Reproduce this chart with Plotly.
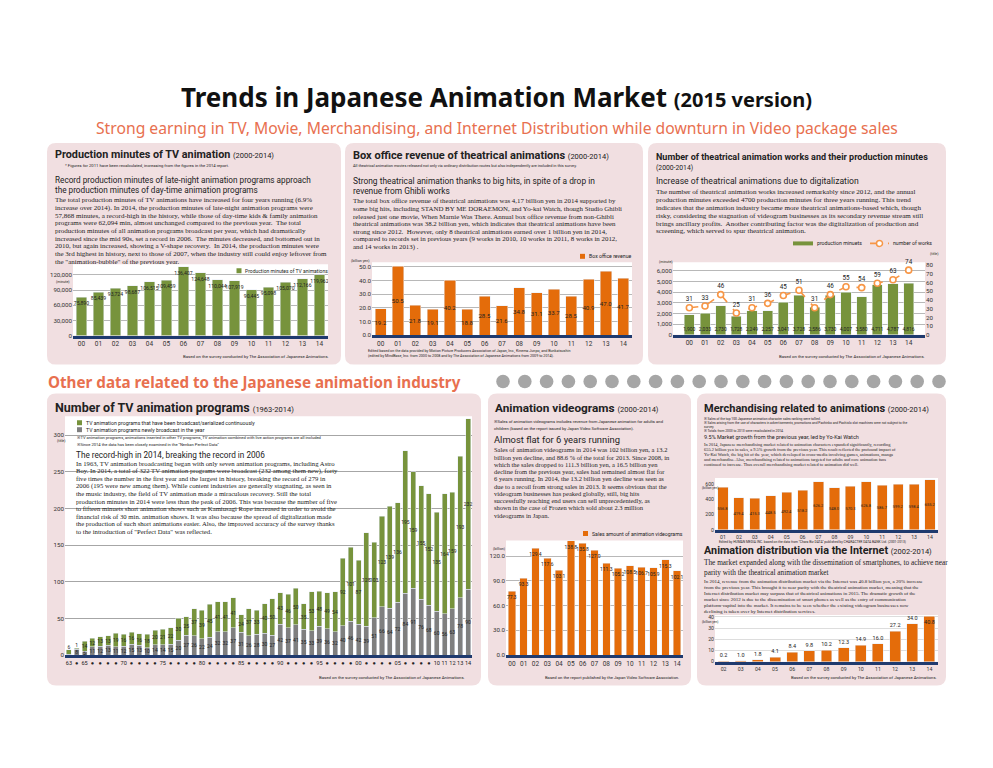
import plotly.graph_objects as go

W, H = 993, 768
SANS = "Roboto, 'Noto Sans', sans-serif"
HEAD = "'Noto Sans', Roboto, sans-serif"
SERIF = "'Liberation Serif', 'DejaVu Serif', serif"
GREEN = "#77933C"
ORANGE = "#E46C0A"
LORANGE = "#F79646"
GRAY = "#7F7F7F"
NAVY = "#1F3A6E"
PINK = "#F1DFE1"
CORAL = "#E8704F"
TXT = "#222222"

# ---------------- data ----------------
years_00_14 = ["00", "01", "02", "03", "04", "05", "06", "07", "08", "09", "10", "11", "12", "13", "14"]
tv_minutes = [75890, 85439, 93724, 98687, 106515, 109459, 136407, 124648, 110044, 107919, 90445, 95098, 105070, 112166, 119962]
box_office = [19.2, 50.5, 21.8, 19.1, 40.2, 18.8, 28.5, 21.6, 34.8, 31.1, 33.7, 28.5, 40.9, 47.0, 41.7]
theatrical_minutes = [1900, 2033, 2730, 1728, 2249, 2257, 3041, 3728, 2586, 3730, 4007, 3580, 4711, 4787, 4816]
theatrical_works = [31, 33, 46, 25, 31, 36, 45, 51, 31, 46, 55, 54, 59, 63, 74]

tv_years = list(range(1963, 2015))
tv_ticklabels = ["63", "●", "65", "●", "●", "●", "●", "70", "●", "●", "●", "●", "75", "●", "●", "●", "●",
                 "80", "●", "●", "●", "●", "85", "●", "●", "●", "●", "90", "●", "●", "●", "●", "95",
                 "●", "●", "●", "●", "00", "●", "●", "●", "●", "05", "●", "●", "●", "●",
                 "10", "11", "12", "13", "14"]
tv_gray = [1, 8, 5, 11, 12, 13, 11, 12, 15, 13, 10, 14, 14, 15, 20, 27, 26, 22, 24, 32, 32, 37, 31, 26, 28, 30,
           27, 42, 37, 41, 35, 33, 39, 36, 32, 40, 46, 42, 39, 51, 66, 64, 72, 84, 91, 76, 68, 60, 56, 63, 78, 90]
tv_green = [6, 1, 14, 12, 13, 13, 19, 16, 16, 16, 18, 20, 21, 22, 30, 25, 37, 39, 45, 41, 41, 41, 24, 37, 33, 40,
            50, 43, 46, 50, 35, 53, 48, 49, 54, 92, 101, 87, 128, 103, 123, 139, 136, 195, 159, 155, 152, 135, 164, 159, 193, 232]

videograms = [77.3, 93.3, 129.4, 117.6, 103.1, 138.8, 135.8, 127.0, 111.3, 105.2, 108.5, 106.7, 105.9, 115.3, 102.1]

merch_years = ["01", "02", "03", "04", "05", "06", "07", "08", "09", "10", "11", "12", "13", "14"]
merch = [556.8, 419.4, 415.3, 448.5, 492.4, 518.2, 626.2, 548.0, 570.3, 626.8, 586.7, 599.2, 598.4, 655.2]

net_years = ["02", "03", "04", "05", "06", "07", "08", "09", "10", "11", "12", "13", "14"]
internet = [0.2, 1.0, 1.8, 4.1, 8.4, 9.8, 10.2, 12.3, 14.9, 16.0, 27.2, 34.0, 40.8]

# ---------------- helpers ----------------
fig = go.Figure()
shapes = []
annots = []


def X(v):
    return v / W


def Y(v):
    return 1 - v / H


def T(x, y, s, size, family=SANS, color=TXT, xanchor="left", yanchor="middle", bold=False):
    annots.append(dict(x=X(x), y=Y(y), xref="paper", yref="paper", text=(f"<b>{s}</b>" if bold else s),
                       showarrow=False, xanchor=xanchor, yanchor=yanchor, borderpad=0,
                       font=dict(family=family, size=size, color=color)))


def LINES(x, y0, dy, lines, size, family=SERIF, color=TXT):
    for i, s in enumerate(lines):
        T(x, y0 + i * dy, s, size, family, color)


def rrect(x0, y0, x1, y1, r, color):
    p = (f"M {X(x0 + r)},{Y(y0)} L {X(x1 - r)},{Y(y0)} Q {X(x1)},{Y(y0)} {X(x1)},{Y(y0 + r)} "
         f"L {X(x1)},{Y(y1 - r)} Q {X(x1)},{Y(y1)} {X(x1 - r)},{Y(y1)} L {X(x0 + r)},{Y(y1)} "
         f"Q {X(x0)},{Y(y1)} {X(x0)},{Y(y1 - r)} L {X(x0)},{Y(y0 + r)} Q {X(x0)},{Y(y0)} {X(x0 + r)},{Y(y0)} Z")
    shapes.append(dict(type="path", path=p, xref="paper", yref="paper", fillcolor=color,
                       line=dict(width=0), layer="below"))


def rect(x0, y0, x1, y1, color, layer="below"):
    shapes.append(dict(type="rect", xref="paper", yref="paper", x0=X(x0), x1=X(x1), y0=Y(y1), y1=Y(y0),
                       fillcolor=color, line=dict(width=0), layer=layer))


# ---------------- panels ----------------
for (a, b, c, d) in [(47, 143, 341, 366), (345, 143, 643, 366), (648, 143, 946, 366),
                     (47, 395, 481, 689), (488, 395, 691, 689), (697, 395, 946, 689)]:
    rrect(a, b, c, d, 9, PINK)

# ---------------- axes ----------------
axes = {
    1: dict(x=(73, 328), y=(265, 336.7), yr=[0, 141000], dt=30000, fmt=","),
    2: dict(x=(372, 632), y=(263, 336.3), yr=[0, 53.4], dt=10, fmt=".1f"),
    3: dict(x=(673, 925), y=(263, 336), yr=[0, 6800], dt=1000, fmt=","),
    4: dict(x=(65, 472), y=(420, 658.3), yr=[0, 323], dt=50, fmt="d"),
    5: dict(x=(506, 683), y=(543, 658.3), yr=[0, 139], dt=30, fmt=".1f"),
    6: dict(x=(715, 938), y=(480, 532.3), yr=[0, 680], dt=200, fmt="d"),
    7: dict(x=(715, 938), y=(618, 665), yr=[0, 41.8], dt=10, fmt="d"),
}
lay = {}
for n, a in axes.items():
    xn = "xaxis" if n == 1 else f"xaxis{n}"
    yn = "yaxis" if n == 1 else f"yaxis{n}"
    lay[xn] = dict(domain=[X(a["x"][0]), X(a["x"][1])], anchor="y" if n == 1 else f"y{n}", type="category",
                   showline=True, linecolor=NAVY, linewidth=2.5, ticks="", showgrid=False, tickangle=0,
                   tickfont=dict(size=6.5, family=SANS, color="#333"), fixedrange=True)
    lay[yn] = dict(domain=[Y(a["y"][1]), Y(a["y"][0])], anchor="x" if n == 1 else f"x{n}", range=a["yr"],
                   dtick=a["dt"], tickformat=a["fmt"], showgrid=True, gridcolor="#B8B8B8", gridwidth=1,
                   zeroline=False, ticks="", tickfont=dict(size=6.2, family=SANS, color="#333"), fixedrange=True)
    rect(a["x"][0], a["y"][0] - (2 if n == 4 else 0), a["x"][1], a["y"][1], "white")
lay["yaxis9"] = dict(overlaying="y3", side="right", anchor="x3", range=[0, 83], dtick=10, showgrid=False,
                     zeroline=False, ticks="", tickfont=dict(size=6.2, family=SANS, color="#333"), fixedrange=True)
lay["yaxis6"]["gridcolor"] = "rgba(0,0,0,0)"
lay["yaxis7"]["gridcolor"] = "#DDDDDD"

bar_font = dict(size=6.1, family=SANS, color=TXT)

# 1 production minutes
fig.add_bar(x=years_00_14, y=tv_minutes, xaxis="x", yaxis="y", marker_color=GREEN,
            text=[f"{v:,}" for v in tv_minutes], textposition="inside", insidetextanchor="end",
            textangle=0, constraintext="none", textfont=dict(size=5.1, family=SANS, color=TXT), hoverinfo="skip")
# 2 box office
fig.add_bar(x=years_00_14, y=box_office, xaxis="x2", yaxis="y2", marker_color=ORANGE,
            text=[f"{v:.1f}" for v in box_office], textposition="inside", insidetextanchor="middle",
            textangle=0, constraintext="none", textfont=bar_font, hoverinfo="skip")
# 3 theatrical works
fig.add_bar(x=years_00_14, y=theatrical_minutes, xaxis="x3", yaxis="y3", marker_color=GREEN,
            text=[f"{v:,}" for v in theatrical_minutes], textposition="inside", insidetextanchor="start",
            textangle=0, constraintext="none", textfont=dict(size=5.0, family=SANS, color=TXT), hoverinfo="skip")
fig.add_scatter(x=years_00_14, y=theatrical_works, xaxis="x3", yaxis="y9", mode="lines+markers+text",
                line=dict(color=LORANGE, dash="dash", width=1.6),
                marker=dict(size=6, color="white", line=dict(color=LORANGE, width=1.6)),
                text=[str(v) for v in theatrical_works], textposition="top center",
                textfont=dict(size=6.3, family=SANS, color=TXT), cliponaxis=False, hoverinfo="skip")
# 4 TV programs (stacked)
tv_font = dict(size=5.0, family=SANS, color=TXT)
fig.add_bar(x=tv_years, y=tv_gray, xaxis="x4", yaxis="y4", marker_color=GRAY,
            text=[str(v) if v >= 3 else "" for v in tv_gray], textposition="inside", insidetextanchor="middle",
            textangle=0, constraintext="none", textfont=tv_font, hoverinfo="skip")
fig.add_bar(x=tv_years, y=tv_green, xaxis="x4", yaxis="y4", marker_color=GREEN,
            text=[str(v) for v in tv_green],
            textposition=["outside" if v < 8 else "inside" for v in tv_green], insidetextanchor="middle",
            textangle=0, constraintext="none", textfont=tv_font, cliponaxis=False, hoverinfo="skip")
lay["xaxis4"]["tickmode"] = "array"
lay["xaxis4"]["tickvals"] = tv_years
lay["xaxis4"]["ticktext"] = tv_ticklabels
lay["xaxis4"]["type"] = "linear"
lay["xaxis4"]["range"] = [1962.5, 2014.5]
lay["xaxis4"]["tickfont"] = dict(size=5.6, family=SANS, color="#222")
lay["xaxis4"]["linewidth"] = 3
lay["yaxis4"]["gridcolor"] = "#A6A6A6"
lay["yaxis4"]["gridwidth"] = 1.3
# 5 videograms
fig.add_bar(x=years_00_14, y=videograms, xaxis="x5", yaxis="y5", marker_color=ORANGE,
            text=[f"{v:.1f}" for v in videograms], textposition="inside", insidetextanchor="end",
            textangle=0, constraintext="none", textfont=dict(size=5.0, family=SANS, color=TXT), hoverinfo="skip")
# 6 merchandising
fig.add_bar(x=merch_years, y=merch, xaxis="x6", yaxis="y6", marker_color=ORANGE,
            text=[f"{v:.1f}" for v in merch], textposition="inside", insidetextanchor="middle",
            textangle=0, constraintext="none", textfont=dict(size=4.0, family=SANS, color=TXT), hoverinfo="skip")
lay["xaxis6"]["tickfont"] = dict(size=5.2, family=SANS, color="#333")
lay["yaxis6"]["tickfont"] = dict(size=5.2, family=SANS, color="#333")
# 7 internet
fig.add_bar(x=net_years, y=internet, xaxis="x7", yaxis="y7", marker_color=ORANGE,
            text=[f"{v:.1f}" for v in internet],
            textposition=["outside"] * (len(internet) - 1) + ["inside"], insidetextanchor="end",
            textangle=0, constraintext="none", textfont=dict(size=5.5, family=SANS, color=TXT),
            cliponaxis=False, hoverinfo="skip")
lay["xaxis7"]["tickfont"] = dict(size=5.2, family=SANS, color="#333")
lay["yaxis7"]["tickfont"] = dict(size=5.2, family=SANS, color="#333")

# ---------------- legends (manual) ----------------
def legsq(x, y, color, label, size=5.0, w=5, h=5):
    rect(x, y - h / 2, x + w, y + h / 2, color, layer="above")
    T(x + w + 2.5, y, label, size)

legsq(236.5, 271.5, GREEN, "Production minutes of TV animations", 5.0)
legsq(580, 257, ORANGE, "Box office revenue", 5.2)
legsq(793, 244, GREEN, "production minuets", 5.2, w=20, h=4)
shapes.append(dict(type="line", xref="paper", yref="paper", x0=X(870), x1=X(889), y0=Y(244), y1=Y(244),
                   line=dict(color=LORANGE, width=1.6, dash="dash"), layer="above"))
shapes.append(dict(type="circle", xref="paper", yref="paper", x0=X(876.5), x1=X(882.5), y0=Y(247), y1=Y(241),
                   fillcolor="white", line=dict(color=LORANGE, width=1.5), layer="above"))
T(892, 244, "number of works", 5.2)
legsq(583, 536, ORANGE, "Sales amount of animation videograms", 5.2)
legsq(77, 424.5, GREEN, "TV animation programs that have been broadcast/serialized continuously", 5.2)
legsq(77, 431.5, GRAY, "TV animation programs newly broadcast in the year", 5.2)

# units
T(55, 283, "(minute)", 3.6)
T(350, 262, "(billion yen)", 3.6)
T(658, 263, "(minute)", 3.6)
T(929, 255, "(title)", 3.6)
T(56, 443, "(title)", 3.6)
T(492, 552, "(billion)", 3.6)
T(701, 490.5, "(billion yen)", 3.2)
T(701, 625, "(billion yen)", 3.2)

# ---------------- titles ----------------
T(496, 97, "Trends in Japanese Animation Market <span style='font-size:20px'>(2015 version)</span>", 26,
  family=HEAD, color="#111", xanchor="center", bold=True)
T(497, 128, "Strong earning in TV, Movie, Merchandising, and Internet Distribution while downturn in Video package sales",
  15.7, family=HEAD, color=CORAL, xanchor="center")
T(47, 383, "Other data related to the Japanese animation industry", 15.2, family=HEAD, color=CORAL, bold=True)
for i in range(21):
    cx = 503 + i * 21.8
    shapes.append(dict(type="circle", xref="paper", yref="paper", x0=X(cx - 6.8), x1=X(cx + 6.8),
                       y0=Y(383 + 6.8), y1=Y(383 - 6.8), fillcolor="#A6A6A6", line=dict(width=0), layer="below"))

# ---------------- panel 1 text ----------------
T(54, 155, "Production minutes of TV animation <span style='font-size:7.5px;font-weight:normal'>(2000-2014)</span>", 10.8, bold=True)
T(64, 166, "* Figures for 2011 have been recalculated, increasing from the figures in the 2014 report.", 4.2)
LINES(54, 180, 10.5, ["Record production minutes of late-night animation programs approach",
                      "the production minutes of day-time animation programs"], 8.2, family=SANS)
LINES(54, 200.5, 7.75, [
    "The total production minutes of TV animations have increased for four years running (6.9%",
    "increase over 2014). In 2014, the production minutes of late-night animation programs were",
    "57,868 minutes, a record-high in the history, while those of day-time kids &amp; family animation",
    "programs were 62,094 min, almost unchanged compared to the previous year.  The total",
    "production minutes of all animation programs broadcast per year, which had dramatically",
    "increased since the mid 90s, set a record in 2006.  The minutes decreased, and bottomed out in",
    "2010, but again increased, showing a V-shape recovery.  In 2014, the production minutes were",
    "the 3rd highest in history, next to those of 2007, when the industry still could enjoy leftover from",
    "the \"animation-bubble\" of the previous year."], 7.0)
T(330, 358, "Based on the survey conducted by The Association of Japanese Animations.", 4.3, xanchor="right")

# ---------------- panel 2 text ----------------
T(352, 156, "Box office revenue of theatrical animations <span style='font-size:7.5px;font-weight:normal'>(2000-2014)</span>", 11, bold=True)
T(352, 165.5, "All theatrical animation movies released not only via ordinary distribution routes but also independently are included in this survey.", 3.9)
LINES(352, 181, 10.5, ["Strong theatrical animation thanks to big hits, in spite of a drop in",
                       "revenue from Ghibli works"], 8.4, family=SANS)
LINES(352, 201, 7.8, [
    "The total box office revenue of theatrical animations was 4,17 billion yen in 2014 supported by",
    "some big hits, including STAND BY ME DORAEMON, and Yo-kai Watch, though Studio Ghibli",
    "released just one movie, When Marnie Was There. Annual box office revenue from non-Ghibli",
    "theatrical animations was 38.2 billion yen, which indicates that theatrical animations have been",
    "strong since 2012.  However, only 8 theatrical animations earned over 1 billion yen in 2014,",
    "compared to records set in previous years (9 works in 2010, 10 works in 2011, 8 works in 2012,",
    "and 14 works in 2013) ."], 6.9)
LINES(367, 352.5, 5.0, [
    "Edited based on the data provided by Motion Picture Producers Association of Japan, Inc., Kinema Junpo, and Bunkatsushin",
    "(edited by MindBase, Inc. from 2000 to 2008 and by The Association of Japanese Animations from 2009 to 2014)."],
      3.7, family=SANS)

# ---------------- panel 3 text ----------------
T(655, 157, "Number of theatrical animation works and their production minutes", 9.0, bold=True)
T(655, 168, "(2000-2014)", 6.8)
T(655, 181.5, "Increase of theatrical animations due to digitalization", 8.6)
LINES(655, 192.5, 7.9, [
    "The number of theatrical animation works increased remarkably since 2012, and the annual",
    "production minutes exceeded 4700 production minutes for three years running. This trend",
    "indicates that the animation industry became more theatrical animations-based which, though",
    "risky, considering the stagnation of videogram businesses as its secondary revenue stream still",
    "brings ancillary profits.  Another contributing factor was the digitalization of production and",
    "screening, which served to spur theatrical animation."], 7.1)
T(926, 358, "Based on the survey conducted by The Association of Japanese Animations.", 4.3, xanchor="right")

# ---------------- panel 4 text ----------------
T(54, 409, "Number of TV animation programs <span style='font-size:7.5px;font-weight:normal'>(1963-2014)</span>", 12.5, bold=True)
T(76, 439, "※TV animation programs, animations inserted in other TV programs, TV animation combined with live action programs are all included", 4.1)
T(76, 446, "※Since 2014 the data has been closely examined in the \"Nenkan Perfect Data\"", 4.1)
T(75, 456.7, "The record-high in 2014, breaking the record in 2006", 8.2)
LINES(75, 466, 7.5, [
    "In 1963, TV animation broadcasting began with only seven animation programs, including Astro",
    "Boy. In 2014, a total of 322 TV animation programs were broadcast (232 among them new), forty",
    "five times the number in the first year and the largest in history, breaking the record of 279 in",
    "2006 (195 were new among them). While content industries are generally stagnating, as seen in",
    "the music industry, the field of TV animation made a miraculous recovery. Still the total",
    "production minutes in 2014 were less than the peak of 2006. This was because the number of five",
    "to fifteen minuets short animation shows such as Kamiusagi Rope increased in order to avoid the",
    "financial risk of 30 min. animation shows. It was also because the spread of digitalization made",
    "the production of such short animations easier. Also, the improved accuracy of the survey thanks",
    "to the introduction of \"Perfect Data\" was reflected."], 6.7)
T(466, 681, "Based on the survey conducted by The Association of Japanese Animations.", 4.3, xanchor="right")

# ---------------- panel 5 text ----------------
T(494, 410, "Animation videograms <span style='font-size:7.5px;font-weight:normal'>(2000-2014)</span>", 11.8, bold=True)
LINES(493, 423, 7, ["※Sales of animation videograms includes revenue from Japanese animation for adults and",
                    "children (based on the report issued by Japan Video Software Association)."], 4.2, family=SANS)
T(493, 441, "Almost flat for 6 years running", 9.4)
LINES(493, 451.7, 7.3, [
    "Sales of animation videograms in 2014 was 102 billion yen, a 13.2",
    "billion yen decline, and 88.6 % of the total for 2013. Since 2008, in",
    "which the sales dropped to 111.3 billion yen, a 16.5 billion yen",
    "decline from the previous year, sales had remained almost flat for",
    "6 years running. In 2014, the 13.2 billion yen decline was seen as",
    "due to a recoil from strong sales in 2013. It seems obvious that the",
    "videogram businesses has peaked globally, still, big hits",
    "successfully reaching end users can sell unprecedentedly, as",
    "shown in the case of Frozen which sold about 2.3 million",
    "videograms in Japan."], 6.5)
T(680, 681, "Based on the report published by the Japan Video Software Association.", 4.2, xanchor="right")

# ---------------- panel 6 text ----------------
T(703, 410, "Merchandising related to animations <span style='font-size:7.5px;font-weight:normal'>(2000-2014)</span>", 11, bold=True)
LINES(703, 420.5, 4.0, [
    "※ Sales of the top 100 Japanese animation character sales ranking were tallied.",
    "※ Sales arising from the use of characters in advertisements, promotions and Pachinko and Pachislo slot machines were not subject to the",
    "survey.",
    "※ Totals from 2003 to 2013 were recalculated in 2014."], 3.3, family=SANS)
T(703, 439.3, "9.5% Market growth from the previous year, led by Yo-Kai Watch", 5.5)
LINES(703, 447.3, 4.9, [
    "In 2014, Japanese merchandising market related to animation characters expanded significantly, recording",
    "655.2 billion yen in sales, a 9.5% growth from the previous year. This result reflected the profound impact of",
    "Yo-Kai Watch, the big hit of the year, which developed in cross-media involving games, animations, manga",
    "and merchandise. Also, merchandising related to animations targeted for adults and core animation fans",
    "continued to increase. Thus overall merchandising market related to animation did well."], 4.4)
T(718, 545, "Edited by HUMAN MEDIA INC. based on the data from \"Chara Biz DATA\" published by CHARACTER DATA BANK Ltd. (2001-2013)", 3.3)

T(703, 553, "Animation distribution via the Internet <span style='font-size:7.5px;font-weight:normal'>(2002-2014)</span>", 10.8, bold=True)
LINES(703, 565, 9.8, ["The market expanded along with the dissemination of smartphones, to achieve near",
                      "parity with the theatrical animation market"], 7.3)
LINES(703, 584.5, 6, [
    "In 2014, revenue from the animation distribution market via the Internet was 40.8 billion yen, a 20% increase",
    "from the previous year. This brought it to near parity with the theatrical animation market, meaning that the",
    "Internet distribution market may surpass that of theatrical animations in 2015. The dramatic growth of the",
    "market since 2012 is due to the dissemination of smart phones as well as the entry of communication",
    "platform-capital into the market. It remains to be seen whether the existing videogram businesses now",
    "declining is taken over by Internet distribution services."], 5.0)
T(938, 681, "Based on the survey conducted by The Association of Japanese Animations.", 4.3, xanchor="right")

fig.update_layout(width=W, height=H, margin=dict(l=0, r=0, t=0, b=0), paper_bgcolor="white",
                  plot_bgcolor="rgba(0,0,0,0)", barmode="stack", bargap=0.36, showlegend=False,
                  shapes=shapes, annotations=annots, font=dict(family=SANS), **lay)

fig.write_html("out.html", config={"displayModeBar": False},
               post_script="document.body.style.margin='0';document.body.style.overflow='hidden';")
